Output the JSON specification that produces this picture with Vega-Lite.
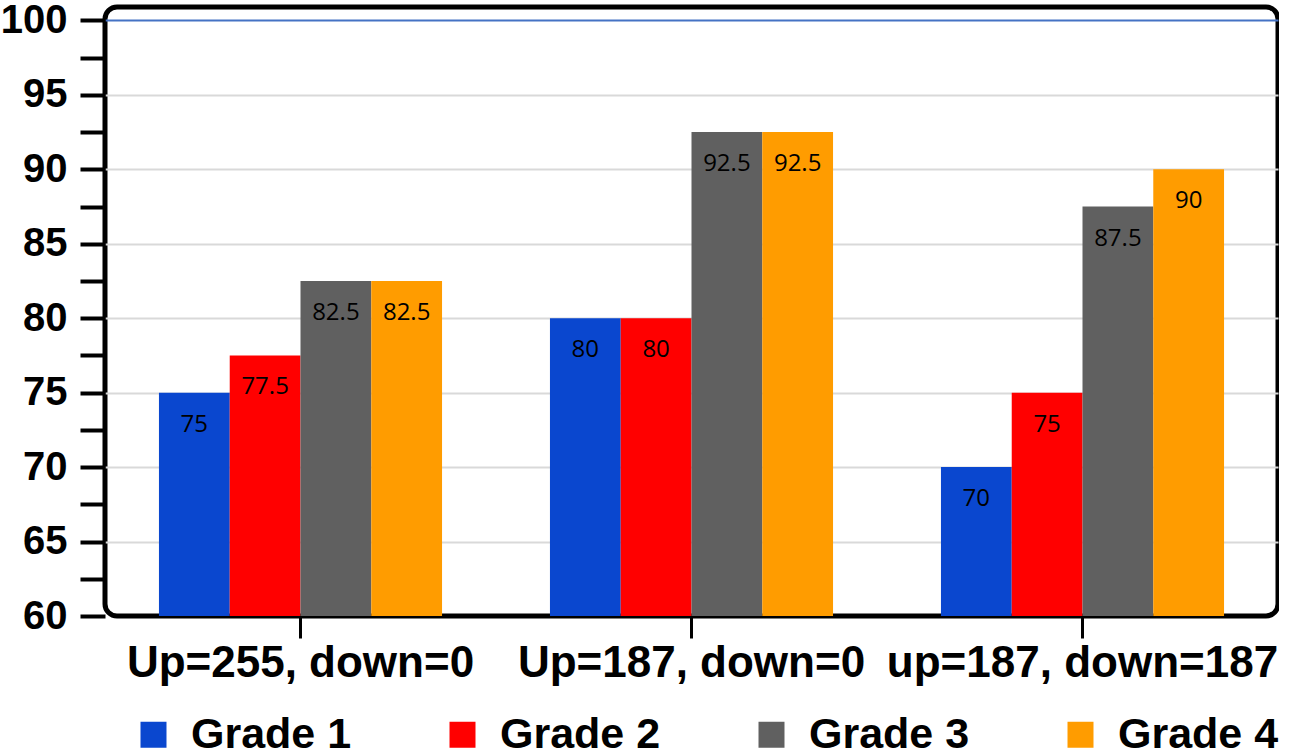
{
  "$schema": "https://vega.github.io/schema/vega-lite/v6.json",
  "width": 1173,
  "height": 609,
  "padding": {"left": 0, "top": 0, "right": 0, "bottom": 0},
  "data": {
    "values": [
      {"setting": "Up=255, down=0", "grade": "Grade 1", "score": 75},
      {"setting": "Up=255, down=0", "grade": "Grade 2", "score": 77.5},
      {"setting": "Up=255, down=0", "grade": "Grade 3", "score": 82.5},
      {"setting": "Up=255, down=0", "grade": "Grade 4", "score": 82.5},
      {"setting": "Up=187, down=0", "grade": "Grade 1", "score": 80},
      {"setting": "Up=187, down=0", "grade": "Grade 2", "score": 80},
      {"setting": "Up=187, down=0", "grade": "Grade 3", "score": 92.5},
      {"setting": "Up=187, down=0", "grade": "Grade 4", "score": 92.5},
      {"setting": "up=187, down=187", "grade": "Grade 1", "score": 70},
      {"setting": "up=187, down=187", "grade": "Grade 2", "score": 75},
      {"setting": "up=187, down=187", "grade": "Grade 3", "score": 87.5},
      {"setting": "up=187, down=187", "grade": "Grade 4", "score": 90}
    ]
  },
  "encoding": {
    "x": {
      "field": "setting",
      "type": "nominal",
      "sort": null,
      "title": null,
      "scale": {"paddingInner": 0.276, "paddingOuter": 0.138},
      "axis": {
        "domain": false,
        "labelAngle": 0,
        "labelFont": "Liberation Sans",
        "labelFontWeight": "bold",
        "labelFontSize": 44,
        "labelColor": "black",
        "labelLimit": 0,
        "labelPadding": 3,
        "tickSize": 22,
        "tickWidth": 3,
        "tickColor": "black",
        "grid": false
      }
    },
    "xOffset": {
      "field": "grade",
      "type": "nominal",
      "scale": {"paddingInner": 0, "paddingOuter": 0}
    },
    "y": {
      "field": "score",
      "type": "quantitative",
      "title": null,
      "scale": {"domain": [60, 100.9], "zero": false, "nice": false},
      "axis": {
        "values": [60, 62.5, 65, 67.5, 70, 72.5, 75, 77.5, 80, 82.5, 85, 87.5, 90, 92.5, 95, 97.5, 100],
        "labelExpr": "datum.value % 5 == 0 ? datum.label : ''",
        "domain": false,
        "labelFont": "Liberation Sans",
        "labelFontWeight": "bold",
        "labelFontSize": 40,
        "labelColor": "black",
        "labelPadding": 13,
        "tickSize": 25,
        "tickWidth": 4,
        "tickColor": "black",
        "grid": true,
        "gridWidth": 2,
        "gridColor": {"condition": {"test": "datum.value == 100", "value": "#4472C4"}, "value": "#D9D9D9"},
        "gridOpacity": {"condition": {"test": "datum.value % 5 != 0 || datum.value == 60", "value": 0}, "value": 1}
      }
    }
  },
  "layer": [
    {
      "mark": {"type": "bar"},
      "encoding": {
        "y2": {"datum": 60},
        "color": {
          "field": "grade",
          "type": "nominal",
          "scale": {
            "domain": ["Grade 1", "Grade 2", "Grade 3", "Grade 4"],
            "range": ["#0A47CF", "#FF0000", "#606060", "#FF9C00"]
          },
          "legend": {
            "title": null,
            "orient": "none",
            "direction": "horizontal",
            "legendX": 27,
            "legendY": 706,
            "padding": 0,
            "symbolType": "square",
            "symbolSize": 676,
            "symbolStrokeWidth": 0,
            "symbolOpacity": 1,
            "labelFont": "Liberation Sans",
            "labelFontWeight": "bold",
            "labelFontSize": 43,
            "labelColor": "black",
            "labelOffset": 16,
            "labelLimit": 0,
            "columnPadding": 89
          }
        }
      }
    },
    {
      "mark": {
        "type": "text",
        "baseline": "middle",
        "dy": 32,
        "font": "Open Sans",
        "fontSize": 24,
        "color": "black"
      },
      "encoding": {
        "text": {"field": "score", "type": "quantitative"}
      }
    }
  ],
  "config": {
    "view": {"stroke": "black", "strokeWidth": 5, "cornerRadius": 12}
  }
}
